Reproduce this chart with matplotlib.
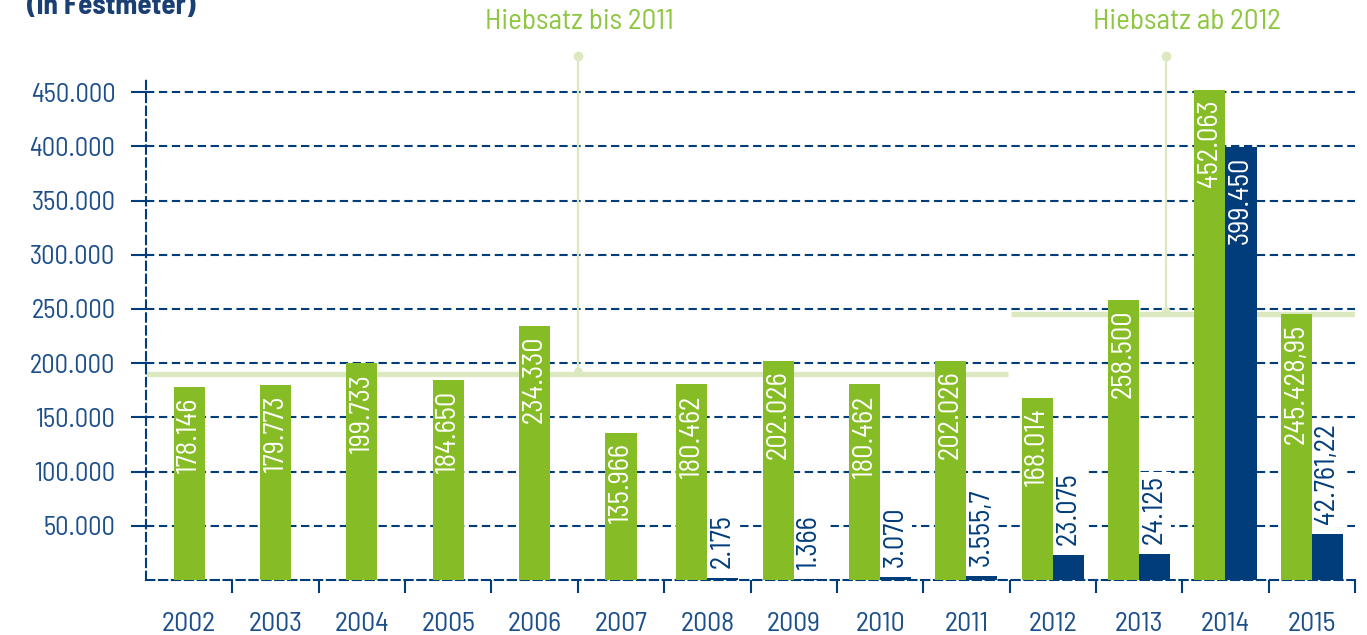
import numpy as np
import matplotlib
matplotlib.use('Agg')
import matplotlib.pyplot as plt

plt.rcParams['font.family'] = ['Barlow Semi Condensed', 'Roboto Condensed', 'DejaVu Sans']

# data (in Festmeter)
years = ['2002', '2003', '2004', '2005', '2006', '2007', '2008',
         '2009', '2010', '2011', '2012', '2013', '2014', '2015']
green_vals = [178146, 179773, 199733, 184650, 234330, 135966, 180462,
              202026, 180462, 202026, 168014, 258500, 452063, 245428.95]
green_labels = ['178.146', '179.773', '199.733', '184.650', '234.330', '135.966', '180.462',
                '202.026', '180.462', '202.026', '168.014', '258.500', '452.063', '245.428,95']
blue_vals = [None, None, None, None, None, None, 2175,
             1366, 3070, 3555.7, 23075, 24125, 399450, 42761.22]
blue_labels = ['', '', '', '', '', '', '2.175',
               '1.366', '3.070', '3.555,7', '23.075', '24.125', '399.450', '42.761,22']
y_ticks = [50000, 100000, 150000, 200000, 250000, 300000, 350000, 400000, 450000]
y_tick_labels = ['50.000', '100.000', '150.000', '200.000', '250.000',
                 '300.000', '350.000', '400.000', '450.000']
hiebsatz_bis_2011 = 190000
hiebsatz_ab_2012 = 245000

green = '#86bc25'
navy = '#003d7a'
textnavy = '#1d4f8a'
light = '#dce8bf'
dash = (0, (4, 2.2))

fig = plt.figure(figsize=(13.67, 6.35), dpi=100)
ax = fig.add_axes([146/1367, 55/635, (1355-146)/1367, (580-78)/635])
ax.set_xlim(-0.5, 13.5)
ax.set_ylim(0, 463000)

w = 0.36
lab_size = 20.5
x = np.arange(len(years))
for i in x:
    has_blue = blue_vals[i] is not None
    gx = i - w/2 if has_blue else i
    ax.bar(gx, green_vals[i], width=w, color=green, zorder=3)
    ax.annotate(green_labels[i], (gx, green_vals[i]), xytext=(0, -7),
                textcoords='offset points', rotation=90, ha='center', va='top',
                color='white', fontsize=lab_size, zorder=4)
    if has_blue:
        bx = i + w/2
        ax.bar(bx, blue_vals[i], width=w, color=navy, zorder=3)
        if blue_vals[i] > 100000:
            ax.annotate(blue_labels[i], (bx, blue_vals[i]), xytext=(0, -7),
                        textcoords='offset points', rotation=90, ha='center', va='top',
                        color='white', fontsize=lab_size, zorder=4)
        else:
            # white box hides the grid behind the label, but stays under the bars
            ax.annotate(blue_labels[i], (bx, blue_vals[i]), xytext=(0, 7),
                        textcoords='offset points', rotation=90, ha='center', va='bottom',
                        color=navy, fontsize=lab_size, zorder=2.6,
                        bbox=dict(boxstyle='square,pad=0.12', fc='white', ec='none'))

# Hiebsatz reference lines
ax.plot([-0.5, 9.48], [hiebsatz_bis_2011]*2, color=light, lw=3.8, zorder=2,
        solid_capstyle='butt')
ax.plot([9.52, 13.5], [hiebsatz_ab_2012]*2, color=light, lw=3.8, zorder=2,
        solid_capstyle='butt')
for lx, ly, tx, txt in [(4.5, hiebsatz_bis_2011, 4.52, 'Hiebsatz bis 2011'),
                        (11.31, hiebsatz_ab_2012, 11.55, 'Hiebsatz ab 2012')]:
    ax.plot([lx, lx], [ly, 483000], color=light, lw=1.6, zorder=2, clip_on=False)
    ax.plot(lx, 483000, 'o', color=light, ms=6, zorder=2, clip_on=False)
    ax.plot(lx, ly + 3000, 'o', color=light, ms=5, zorder=2)
    ax.text(tx, 515000, txt, ha='center', va='center', color='#8dc63f',
            fontsize=21, clip_on=False)

# axes styling
for s in ['top', 'right']:
    ax.spines[s].set_visible(False)
for s in ['left', 'bottom']:
    ax.spines[s].set_linestyle(dash)
    ax.spines[s].set_color(navy)
    ax.spines[s].set_linewidth(1.5)
ax.set_yticks(y_ticks)
ax.set_yticklabels(y_tick_labels)
ax.yaxis.grid(True, linestyle=dash, lw=1.5, color=navy)
ax.set_axisbelow(True)
ax.tick_params(axis='y', length=11, width=1.5, color=navy, pad=11,
               labelsize=19, labelcolor=textnavy)
ax.set_xticks(x)
ax.set_xticklabels(years)
ax.set_xticks(np.arange(0.5, 14, 1), minor=True)
ax.tick_params(axis='x', which='major', length=0, pad=23, labelsize=20,
               labelcolor=textnavy)
ax.tick_params(axis='x', which='minor', length=9, width=1.5, color=navy)

fig.text(27/1367, 1 - 14/635, '(in Festmeter)', fontsize=21, fontweight='bold',
         color='#1a3f73', va='baseline', ha='left')

fig.savefig('out.png', dpi=100)
